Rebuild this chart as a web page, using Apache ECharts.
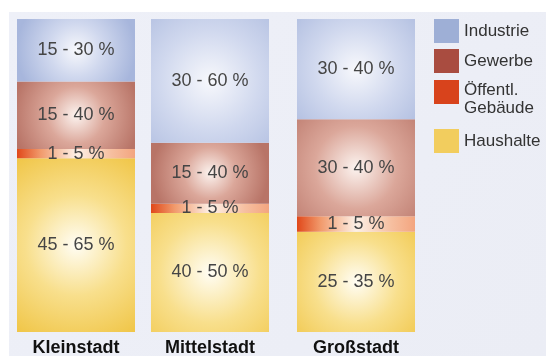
<!DOCTYPE html>
<html>
<head>
<meta charset="utf-8">
<script src="https://cdn.jsdelivr.net/npm/echarts@6/dist/echarts.min.js"></script>
<style>
html,body{margin:0;padding:0;background:#ffffff;}
#chart{width:546px;height:356px;}
</style>
</head>
<body>
<div id="chart"></div>
<script>
// Data
const categories = ['Kleinstadt', 'Mittelstadt', 'Großstadt'];
const seriesNames = ['Haushalte', 'Öffentl.\nGebäude', 'Gewerbe', 'Industrie'];
const haushalte = [55.5, 38, 32];
const oeffentlich = [3, 3, 5];
const gewerbe = [21.5, 19.5, 31];
const industrie = [20, 39.5, 32];
const haushalteLabels = ['45 - 65 %', '40 - 50 %', '25 - 35 %'];
const oeffentlichLabels = ['1 - 5 %', '1 - 5 %', '1 - 5 %'];
const gewerbeLabels = ['15 - 40 %', '15 - 40 %', '30 - 40 %'];
const industrieLabels = ['15 - 30 %', '30 - 60 %', '30 - 40 %'];

const values = [haushalte, oeffentlich, gewerbe, industrie];
const labels = [haushalteLabels, oeffentlichLabels, gewerbeLabels, industrieLabels];

// Styles
const swatch = ['#f2cd5e', '#d8431c', '#a94c40', '#9eafd6'];
function radial(inner, mid, outer) {
  return {type: 'radial', x: 0.5, y: 0.5, r: 0.95,
    colorStops: [{offset: 0, color: inner}, {offset: 0.45, color: mid}, {offset: 1, color: outer}]};
}
const fills = [
  radial('#fffdf4', '#f8df8c', '#efc23e'),
  {type: 'linear', x: 0, y: 0, x2: 1, y2: 0,
    colorStops: [{offset: 0, color: '#e0481a'}, {offset: 0.2, color: '#f19a6c'}, {offset: 0.5, color: '#fdf0e6'}, {offset: 0.8, color: '#f6bfa0'}, {offset: 1, color: '#f3a57f'}]},
  radial('#fcf3ef', '#dba79a', '#b87467'),
  radial('#f7f8fc', '#d0d8ee', '#a7b6dc')
];
const barLeft = [17, 151, 297];
const barWidth = 118;

const grids = [], xAxes = [], yAxes = [], series = [];
categories.forEach((cat, i) => {
  grids.push({left: barLeft[i], width: barWidth, top: 19, bottom: 24, outerBoundsMode: 'none', containLabel: false});
  xAxes.push({type: 'category', gridIndex: i, data: [cat],
    axisLine: {show: false}, axisTick: {show: false},
    axisLabel: {margin: 7, color: '#111', fontWeight: 'bold', fontSize: 18, fontFamily: 'Liberation Sans'}});
  yAxes.push({type: 'value', gridIndex: i, min: 0, max: 100, show: false});
  seriesNames.forEach((name, s) => {
    series.push({
      type: 'bar', name: name, xAxisIndex: i, yAxisIndex: i, stack: 'city' + i,
      barWidth: '100%', data: [values[s][i]],
      itemStyle: {color: fills[s]},
      label: {show: true, position: 'inside', formatter: () => labels[s][i],
        color: '#454545', fontSize: 18, fontFamily: 'Liberation Sans'},
      emphasis: {disabled: true},
      animation: false
    });
  });
});

const legendText = {color: '#333', fontSize: 17, fontFamily: 'Liberation Sans', lineHeight: 18};
function legendFor(s, top, extra) {
  return Object.assign({
    orient: 'vertical', left: 434, top: top, padding: 0,
    itemWidth: 25, itemHeight: 24, itemGap: 6, icon: 'rect',
    selectedMode: false,
    data: [{name: seriesNames[s], itemStyle: {color: swatch[s]}}],
    textStyle: legendText
  }, extra || {});
}

const chart = echarts.init(document.getElementById('chart'), null, {renderer: 'canvas'});
chart.setOption({
  animation: false,
  backgroundColor: '#ffffff',
  graphic: [{type: 'rect', left: 9, top: 12, z: -100, silent: true,
    shape: {width: 537, height: 344},
    style: {fill: {type: 'linear', x: 0, y: 0, x2: 1, y2: 1,
      colorStops: [{offset: 0, color: '#eef0f8'}, {offset: 1, color: '#ebedf5'}]}}}],
  grid: grids,
  xAxis: xAxes,
  yAxis: yAxes,
  legend: [
    legendFor(3, 19),
    legendFor(2, 49),
    legendFor(1, 67, {
      formatter: (n) => '{s| }\n' + n.split('\n').map(t => '{t|' + t + '}').join('\n'),
      textStyle: Object.assign({}, legendText, {rich: {
        s: {lineHeight: 14, fontSize: 10},
        t: {lineHeight: 18, fontSize: 17, color: '#333', fontFamily: 'Liberation Sans'}
      }})
    }),
    legendFor(0, 129)
  ],
  series: series
});
</script>
</body>
</html>
